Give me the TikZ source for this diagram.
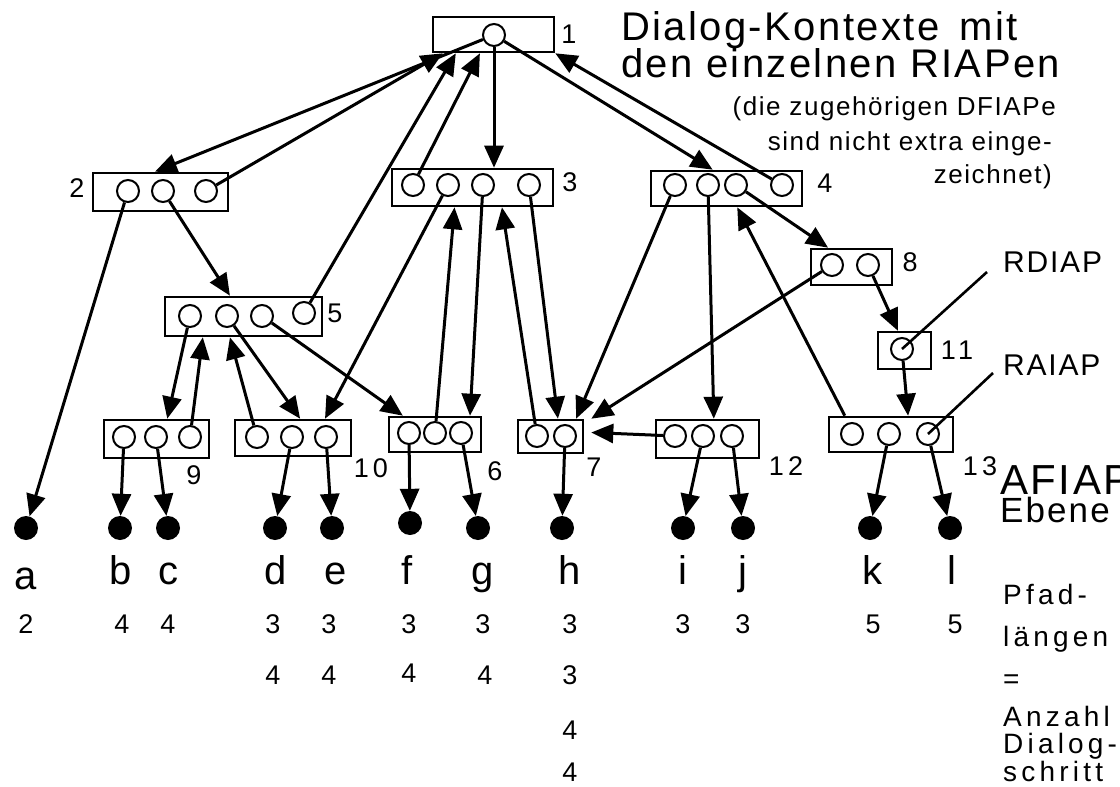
\documentclass[tikz,border=0pt]{standalone}
\usepackage{fontspec}
\setmainfont{Liberation Sans}
\newfontfamily\dkfont[LetterSpace=15]{Liberation Sans}
\newfontfamily\dktext[LetterSpace=6]{Liberation Sans}
\usetikzlibrary{arrows.meta,calc}
\tikzset{
  dk/box/.style={
    draw,
    line width=2.6pt,
    inner sep=0pt
  },
  dk/ap/.style={
    circle,
    draw,
    line width=2pt,
    fill=white,
    minimum size=22pt,
    inner sep=0pt
  },
  dk/leaf/.style={circle, fill=black, minimum size=24pt, inner sep=0pt},
  dk/arrow/.style={-{Triangle[length=22pt,width=19pt]}, line width=3pt},
  dk/pointer/.style={line width=2.6pt},
  dk/num/.style={font=\dkfont\fontsize{27}{30}\selectfont, inner sep=0pt},
  dk/digit/.style={font=\fontsize{27}{30}\selectfont, inner sep=0pt, anchor=base},
  dk/letter/.style={font=\fontsize{40}{44}\selectfont, inner sep=0pt, anchor=base},
  dk/title/.style={font=\dktext\fontsize{40}{46}\selectfont, inner sep=0pt, anchor=base west},
  dk/note/.style={font=\dktext\fontsize{26}{30}\selectfont, inner sep=0pt, anchor=base east},
  dk/side/.style={font=\dktext\fontsize{30}{34}\selectfont, inner sep=0pt, anchor=base west},
  dk/path/.style={font=\dkfont\fontsize{28}{32}\selectfont, inner sep=0pt, anchor=base west}
}

\begin{document}
\begin{tikzpicture}[x=1pt,y=-1pt]
  \useasboundingbox (0,0) rectangle (1120,787);

  % dialog contexts with their RIAPs
  \node[dk/box,minimum width=121pt,minimum height=35pt] (k1) at (493.5,34.5) {};
  \node[dk/ap] (k1a) at (494,35) {};

  \node[dk/box,minimum width=135pt,minimum height=38pt] (k2) at (160.5,192) {};
  \node[dk/ap] (k2a) at (128,191) {};
  \node[dk/ap] (k2b) at (163,191) {};
  \node[dk/ap] (k2c) at (206,191) {};

  \node[dk/box,minimum width=161pt,minimum height=37pt] (k3) at (472.5,187.5) {};
  \node[dk/ap] (k3a) at (413,185) {};
  \node[dk/ap] (k3b) at (448,185) {};
  \node[dk/ap] (k3c) at (483,185) {};
  \node[dk/ap] (k3d) at (529,185) {};

  \node[dk/box,minimum width=151pt,minimum height=35pt] (k4) at (726.5,188.5) {};
  \node[dk/ap] (k4a) at (675,185) {};
  \node[dk/ap] (k4b) at (708,185) {};
  \node[dk/ap] (k4c) at (736,185) {};
  \node[dk/ap] (k4d) at (782,185) {};

  \node[dk/box,minimum width=157pt,minimum height=39pt] (k5) at (243.5,316.5) {};
  \node[dk/ap] (k5a) at (190,316) {};
  \node[dk/ap] (k5b) at (227,316) {};
  \node[dk/ap] (k5c) at (262,316) {};
  \node[dk/ap] (k5d) at (304,313) {};

  \node[dk/box,minimum width=81pt,minimum height=36pt] (k8) at (851.5,267) {};
  \node[dk/ap] (k8a) at (832,265) {};
  \node[dk/ap] (k8b) at (868,265) {};

  \node[dk/box,minimum width=53pt,minimum height=37pt] (k11) at (904.5,350.5) {};
  \node[dk/ap] (k11a) at (902,349) {};

  \node[dk/box,minimum width=105pt,minimum height=38pt] (k9) at (156.5,439) {};
  \node[dk/ap] (k9a) at (124,437) {};
  \node[dk/ap] (k9b) at (156,437) {};
  \node[dk/ap] (k9c) at (190,437) {};

  \node[dk/box,minimum width=116pt,minimum height=36pt] (k10) at (293,438) {};
  \node[dk/ap] (k10a) at (257,437) {};
  \node[dk/ap] (k10b) at (292,437) {};
  \node[dk/ap] (k10c) at (326,437) {};

  \node[dk/box,minimum width=92pt,minimum height=35pt] (k6) at (435,434.5) {};
  \node[dk/ap] (k6a) at (409,433) {};
  \node[dk/ap] (k6b) at (435,433) {};
  \node[dk/ap] (k6c) at (461,433) {};

  \node[dk/box,minimum width=65pt,minimum height=33pt] (k7) at (550.5,436.5) {};
  \node[dk/ap] (k7a) at (537,436) {};
  \node[dk/ap] (k7b) at (565,436) {};

  \node[dk/box,minimum width=103pt,minimum height=38pt] (k12) at (707.5,439) {};
  \node[dk/ap] (k12a) at (675,436) {};
  \node[dk/ap] (k12b) at (703,436) {};
  \node[dk/ap] (k12c) at (732,436) {};

  \node[dk/box,minimum width=124pt,minimum height=35pt] (k13) at (891,434.5) {};
  \node[dk/ap] (k13a) at (852,434) {};
  \node[dk/ap] (k13b) at (889,434) {};
  \node[dk/ap] (k13c) at (928,434) {};

  % context numbers
  \node[dk/num] (n1) at (569,34) {1};
  \node[dk/num] (n2) at (77,188) {2};
  \node[dk/num] (n3) at (570,182) {3};
  \node[dk/num] (n4) at (825,183) {4};
  \node[dk/num] (n5) at (335,313) {5};
  \node[dk/num] (n8) at (910,262) {8};
  \node[dk/num] (n11) at (957,350) {11};
  \node[dk/num] (n9) at (194,475) {9};
  \node[dk/num] (n10) at (371,468) {10};
  \node[dk/num] (n6) at (495,471) {6};
  \node[dk/num] (n7) at (594,467) {7};
  \node[dk/num] (n12) at (786,466) {12};
  \node[dk/num] (n13) at (980,466) {13};

  % AFIAP leaves
  \node[dk/leaf] (pa) at (26,528) {};
  \node[dk/leaf] (pb) at (120,528) {};
  \node[dk/leaf] (pc) at (168,528) {};
  \node[dk/leaf] (pd) at (275,528) {};
  \node[dk/leaf] (pe) at (332,528) {};
  \node[dk/leaf] (pf) at (410,523) {};
  \node[dk/leaf] (pg) at (478,528) {};
  \node[dk/leaf] (ph) at (562,528) {};
  \node[dk/leaf] (pi) at (683,528) {};
  \node[dk/leaf] (pj) at (743,528) {};
  \node[dk/leaf] (pk) at (870,528) {};
  \node[dk/leaf] (pl) at (950,528) {};

  \node[dk/letter] (la) at (26,589) {a};
  \node[dk/letter] (lb) at (121,584) {b};
  \node[dk/letter] (lc) at (168,584) {c};
  \node[dk/letter] (ld) at (276,584) {d};
  \node[dk/letter] (le) at (336,584) {e};
  \node[dk/letter] (lf) at (407,584) {f};
  \node[dk/letter] (lg) at (483,584) {g};
  \node[dk/letter] (lh) at (570,584) {h};
  \node[dk/letter] (li) at (683,584) {i};
  \node[dk/letter] (lj) at (743,584) {j};
  \node[dk/letter] (lk) at (872,584) {k};
  \node[dk/letter] (ll) at (952,584) {l};

  % path lengths
  \node[dk/digit] (sa) at (26,633) {2};
  \node[dk/digit] (sb) at (122,633) {4};
  \node[dk/digit] (sc) at (168,633) {4};
  \node[dk/digit] (sd) at (273,633) {3};
  \node[dk/digit] (se) at (329,633) {3};
  \node[dk/digit] (sf) at (409,633) {3};
  \node[dk/digit] (sg) at (483,633) {3};
  \node[dk/digit] (sh) at (570,633) {3};
  \node[dk/digit] (si) at (683,633) {3};
  \node[dk/digit] (sj) at (743,633) {3};
  \node[dk/digit] (sk) at (873,633) {5};
  \node[dk/digit] (sl) at (955,633) {5};
  \node[dk/digit] (sd2) at (273,684) {4};
  \node[dk/digit] (se2) at (329,684) {4};
  \node[dk/digit] (sf2) at (409,682) {4};
  \node[dk/digit] (sg2) at (485,684) {4};
  \node[dk/digit] (sh2) at (570,684) {3};
  \node[dk/digit] (sh3) at (570,739) {4};
  \node[dk/digit] (sh4) at (570,781) {4};

  % connectors between the contexts
  \draw[dk/arrow] (k1a) -- ($(k2.north west)!.46!(k2.north east)$);
  \draw[dk/arrow] (k2c) -- ($(k1.south west)!.09!(k1.south east)$);
  \draw[dk/arrow] (k5d) -- ($(k1.south west)!.195!(k1.south east)$);
  \draw[dk/arrow] (k3a) -- ($(k1.south west)!.39!(k1.south east)$);
  \draw[dk/arrow] (k1a) -- (k1a |- k3.north);
  \draw[dk/arrow] (k1a) -- ($(k4.north west)!.41!(k4.north east)$);
  \draw[dk/arrow] (k4d) -- (k1.south east);
  \draw[dk/arrow] (k2b) -- ($(k5.north west)!.415!(k5.north east)$);
  \draw[dk/arrow] (k5a) -- ($(k9.north west)!.6!(k9.north east)$);
  \draw[dk/arrow] (k9c) -- ($(k5.south west)!.245!(k5.south east)$);
  \draw[dk/arrow] (k10a) -- ($(k5.south west)!.415!(k5.south east)$);
  \draw[dk/arrow] (k5b) -- ($(k10.north west)!.56!(k10.north east)$);
  \draw[dk/arrow] (k5c) -- ($(k6.north west)!.16!(k6.north east)$);
  \draw[dk/arrow] (k3b) -- ($(k10.north west)!.77!(k10.north east)$);
  \draw[dk/arrow] (k6b) -- ($(k3.south west)!.39!(k3.south east)$);
  \draw[dk/arrow] (k3c) -- ($(k6.north west)!.87!(k6.north east)$);
  \draw[dk/arrow] (k7a) -- ($(k3.south west)!.68!(k3.south east)$);
  \draw[dk/arrow] (k3d) -- ($(k7.north west)!.61!(k7.north east)$);
  \draw[dk/arrow] (k4a) -- ($(k7.north west)!.88!(k7.north east)$);
  \draw[dk/arrow] (k8a) -- ([xshift=7pt]k7.north east);
  \draw[dk/arrow] (k12a) -- ([xshift=7pt,yshift=4pt]k7.east);
  \draw[dk/arrow] (k4b) -- ($(k12.north west)!.56!(k12.north east)$);
  \draw[dk/arrow] (k4c) -- ($(k8.north west)!.22!(k8.north east)$);
  \draw[dk/arrow] ($(k13.north west)!.135!(k13.north east)$) -- ($(k4.south west)!.57!(k4.south east)$);
  \draw[dk/arrow] (k8b) -- ($(k11.north west)!.38!(k11.north east)$);
  \draw[dk/arrow] (k11a) -- ($(k13.north west)!.635!(k13.north east)$);

  % connectors down to the leaves
  \draw[dk/arrow] (k2a) -- (pa);
  \draw[dk/arrow] (k9a) -- (pb);
  \draw[dk/arrow] (k9b) -- (pc);
  \draw[dk/arrow] (k10b) -- (pd);
  \draw[dk/arrow] (k10c) -- (pe);
  \draw[dk/arrow] (k6a) -- (pf);
  \draw[dk/arrow] (k6c) -- (pg);
  \draw[dk/arrow] (k7b) -- (ph);
  \draw[dk/arrow] (k12b) -- (pi);
  \draw[dk/arrow] (k12c) -- (pj);
  \draw[dk/arrow] (k13b) -- (pk);
  \draw[dk/arrow] (k13c) -- (pl);

  % captions
  \node[dk/title] (title1) at (621,40) {Dialog-Kontexte\enspace mit};
  \node[dk/title] (title2) at (621,77) {den einzelnen RIAPen};
  \node[dk/note] (note1) at (1056,115) {(die zugehörigen DFIAPe};
  \node[dk/note] (note2) at (1052,150) {sind nicht extra einge-};
  \node[dk/note] (note3) at (1052,183) {zeichnet)};

  \node[dk/side] (rdiap) at (1003,272) {RDIAP};
  \node[dk/side] (raiap) at (1003,375) {RAIAP};
  \coordinate (rdiapEnd) at (987,272);
  \coordinate (raiapEnd) at (993,373);
  \draw[dk/pointer] (rdiapEnd) -- (k11a.center);
  \draw[dk/pointer] (raiapEnd) -- (k13c.center);

  \node[font=\dktext\fontsize{42}{46}\selectfont,inner sep=0pt,anchor=base west] (afiap) at (1000,494) {AFIAP};
  \node[font=\dktext\fontsize{35}{38}\selectfont,inner sep=0pt,anchor=base west] (ebene) at (1000,522) {Ebene};

  \node[dk/path] (pfad1) at (1003,604) {Pfad-};
  \node[dk/path] (pfad2) at (1003,646) {längen};
  \node[dk/path] (pfad3) at (1003,688) {=};
  \node[dk/path] (pfad4) at (1003,726) {Anzahl};
  \node[dk/path] (pfad5) at (1003,753) {Dialog-};
  \node[dk/path] (pfad6) at (1003,781) {schritt};
\end{tikzpicture}
\end{document}
